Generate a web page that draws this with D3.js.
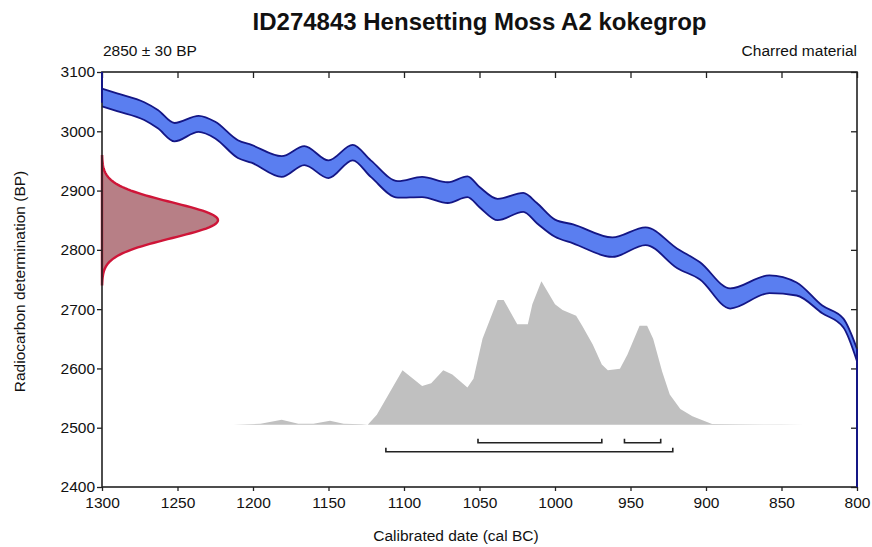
<!DOCTYPE html>
<html>
<head>
<meta charset="utf-8">
<script src="https://cdn.jsdelivr.net/npm/d3@7"></script>
<style>
  body { margin: 0; background: #fff; }
  text { font-family: "Liberation Sans", Arial, sans-serif; fill: #111; }
</style>
</head>
<body>
<div id="chart"></div>
<script>
// calibration curve band (cal BC -> BP upper / lower edge)
const calYears = [1300, 1290, 1272, 1263, 1252, 1236, 1225, 1210, 1201, 1181, 1166, 1150, 1134, 1122, 1104,
                  1088, 1071, 1058, 1050, 1038, 1021, 1012, 1000, 988, 962, 940, 919, 904, 884, 858, 840, 823, 809, 800];
const calUpper = [3072, 3064, 3049, 3036, 3014, 3026, 3016, 2985, 2977, 2958, 2975, 2951, 2977, 2951, 2916,
                  2923, 2914, 2924, 2906, 2886, 2896, 2879, 2851, 2843, 2821, 2838, 2802, 2779, 2735, 2757, 2745, 2706, 2684, 2633];
const calLower = [3042, 3034, 3019, 3005, 2983, 2999, 2988, 2955, 2947, 2923, 2943, 2921, 2951, 2923, 2888,
                  2889, 2879, 2889, 2872, 2850, 2864, 2845, 2822, 2811, 2788, 2808, 2769, 2750, 2701, 2727, 2723, 2693, 2669, 2612];

// calibrated probability (relative, peak = 100)
const probYears = [1213, 1195, 1181, 1170, 1160, 1149, 1140, 1128, 1124, 1118, 1101, 1088, 1082, 1074, 1068, 1058, 1054,
                   1048, 1041, 1038, 1034, 1025, 1018, 1015, 1009, 1000, 995, 986, 982, 975, 969, 965, 957, 952,
                   944, 939, 935, 929, 924, 917, 909, 896, 880, 850, 835];
const probValues = [0, 0.7, 3.5, 0.7, 0.7, 2.8, 0.7, 0.3, 0, 7, 38, 27, 29, 38, 35, 26, 32,
                    60, 79, 87, 87, 70, 70, 84, 100, 84, 80, 76, 69, 56, 42, 38, 39, 49,
                    69, 69, 60, 37, 21, 11, 6, 0.5, 0.3, 0.2, 0];

// radiocarbon determination
const c14Mean = 2850;
const c14Sd = 30;

// highest posterior density ranges (cal BC)
const range68 = [[1051, 969], [954, 930]];
const range95 = [[1112, 922]];

const xTicks = [1300, 1250, 1200, 1150, 1100, 1050, 1000, 950, 900, 850, 800];
const yTicks = [2400, 2500, 2600, 2700, 2800, 2900, 3000, 3100];

const W = 872, H = 547;
const margin = { top: 72, right: 15, bottom: 60, left: 102 };
const iw = 857 - margin.left;
const ih = 487 - margin.top;
const fs = 15.5;

const svg = d3.select("#chart").append("svg")
  .attr("width", W).attr("height", H);

const g = svg.append("g").attr("transform", `translate(${margin.left},${margin.top})`);

const x = d3.scaleLinear().domain([1300, 800]).range([0, iw]);
const y = d3.scaleLinear().domain([2400, 3100]).range([ih, 0]);

// calibration curve
const calData = calYears.map((yr, i) => ({ yr, hi: calUpper[i], lo: calLower[i] }));
g.append("path")
  .datum(calData)
  .attr("d", d3.area().x(d => x(d.yr)).y0(d => y(d.lo)).y1(d => y(d.hi)).curve(d3.curveMonotoneX))
  .attr("fill", "#5a7ef0")
  .attr("stroke", "none");
["hi", "lo"].forEach(k => {
  g.append("path")
    .datum(calData)
    .attr("d", d3.line().x(d => x(d.yr)).y(d => y(d[k])).curve(d3.curveMonotoneX))
    .attr("fill", "none")
    .attr("stroke", "#141685")
    .attr("stroke-width", 1.8);
});

// calibrated distribution
const baseBP = 2505;
const peakBP = 2747;
const p = d3.scaleLinear().domain([0, 100]).range([y(baseBP), y(peakBP)]);
const probData = probYears.map((yr, i) => ({ yr, v: probValues[i] }));
g.append("path")
  .datum(probData)
  .attr("d", d3.area().x(d => x(d.yr)).y0(y(baseBP)).y1(d => p(d.v)).curve(d3.curveLinear))
  .attr("fill", "#c0c0c0");

// radiocarbon date (normal) on y axis
const gauss = d3.range(c14Mean - 3.6 * c14Sd, c14Mean + 3.6 * c14Sd + 0.1, 2)
  .map(bp => ({ bp, v: Math.exp(-0.5 * ((bp - c14Mean) / c14Sd) ** 2) }));
const gx = d3.scaleLinear().domain([0, 1]).range([0, 116]);
g.append("path")
  .datum(gauss)
  .attr("d", d3.area().y(d => y(d.bp)).x0(0).x1(d => gx(d.v)))
  .attr("fill", "#b77f86")
  .attr("stroke", "#cf1538")
  .attr("stroke-width", 2.4);

// ranges
function drawRange(r, yy) {
  r.forEach(([a, b]) => {
    g.append("path")
      .attr("d", `M${x(a)},${yy - 4}V${yy}H${x(b)}V${yy - 4}`)
      .attr("fill", "none")
      .attr("stroke", "#222")
      .attr("stroke-width", 1.6);
  });
}
drawRange(range68, y(baseBP) + 18);
drawRange(range95, y(baseBP) + 27);

// frame & axes
const axisStyle = sel => {
  sel.select(".domain").remove();
  sel.selectAll("line").attr("stroke", "#222").attr("stroke-width", 1.3);
  sel.selectAll("text").attr("font-size", fs).attr("fill", "#222")
    .attr("font-family", "'Liberation Sans', Arial, sans-serif");
};
g.append("g").attr("transform", `translate(0,${ih})`)
  .call(d3.axisBottom(x).tickValues(xTicks).tickSize(4).tickPadding(6).tickFormat(d3.format("d")))
  .call(axisStyle);
g.append("g")
  .call(d3.axisLeft(y).tickValues(yTicks).tickSize(5).tickPadding(2).tickFormat(d3.format("d")))
  .call(axisStyle);
g.append("g")
  .call(d3.axisTop(x).tickValues(xTicks).tickSizeInner(-6).tickSizeOuter(0).tickFormat(""))
  .call(axisStyle);
g.append("g").attr("transform", `translate(${iw},0)`)
  .call(d3.axisRight(y).tickValues(yTicks).tickSizeInner(-6).tickSizeOuter(0).tickFormat(""))
  .call(axisStyle);
g.append("rect")
  .attr("width", iw).attr("height", ih)
  .attr("fill", "none").attr("stroke", "#222").attr("stroke-width", 1.6);
// curve meets the plot edges in dark blue
g.append("line")
  .attr("x1", iw).attr("x2", iw).attr("y1", y(calUpper[calUpper.length - 1])).attr("y2", ih)
  .attr("stroke", "#141685").attr("stroke-width", 2);
g.append("line")
  .attr("x1", 0).attr("x2", 0).attr("y1", 0).attr("y2", y(3048))
  .attr("stroke", "#141685").attr("stroke-width", 2);

// labels
svg.append("text")
  .attr("x", margin.left + iw / 2).attr("y", 30)
  .attr("text-anchor", "middle")
  .attr("font-size", 24).attr("font-weight", "bold")
  .text("ID274843 Hensetting Moss A2 kokegrop");
svg.append("text")
  .attr("x", margin.left + 1).attr("y", 56)
  .attr("font-size", fs)
  .text("2850 ± 30 BP");
svg.append("text")
  .attr("x", margin.left + iw).attr("y", 56)
  .attr("text-anchor", "end")
  .attr("font-size", fs)
  .text("Charred material");
svg.append("text")
  .attr("x", 456).attr("y", 541)
  .attr("text-anchor", "middle")
  .attr("font-size", fs)
  .text("Calibrated date (cal BC)");
svg.append("text")
  .attr("transform", `translate(25,${margin.top + ih / 2 + 2}) rotate(-90)`)
  .attr("text-anchor", "middle")
  .attr("font-size", fs)
  .text("Radiocarbon determination (BP)");
</script>
</body>
</html>
